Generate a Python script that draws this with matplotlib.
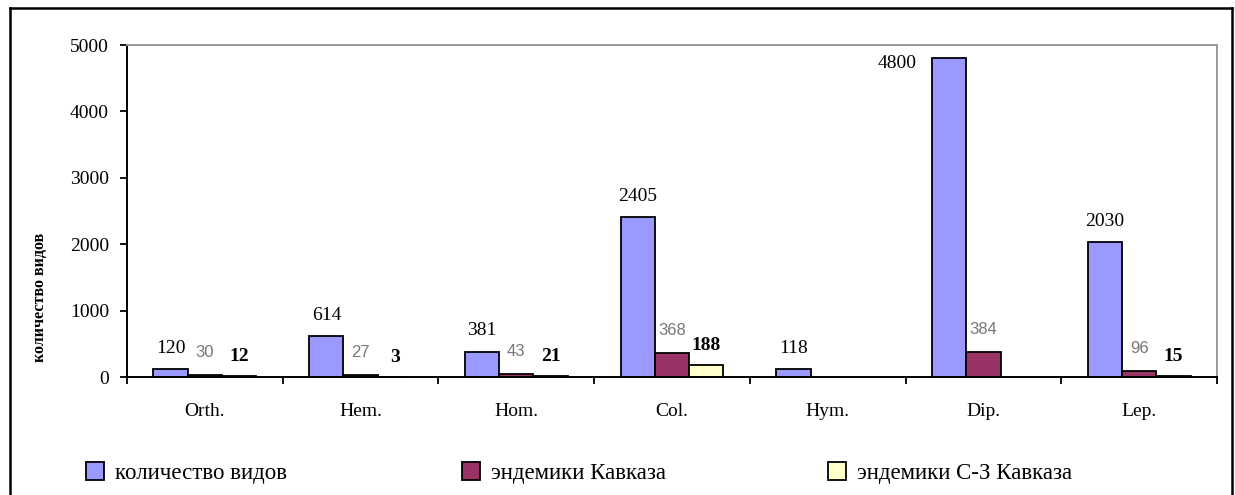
import numpy as np
import matplotlib.pyplot as plt
from matplotlib.lines import Line2D
from matplotlib.patches import Patch

# data
orders = ['Orth.', 'Hem.', 'Hom.', 'Col.', 'Hym.', 'Dip.', 'Lep.']
species = [120, 614, 381, 2405, 118, 4800, 2030]
endem_cauc = [30, 27, 43, 368, np.nan, 384, 96]
endem_nw = [12, 3, 21, 188, np.nan, np.nan, 15]

names = ['количество видов', 'эндемики Кавказа', 'эндемики С-З Кавказа']
colors = ['#9999FF', '#993366', '#FFFFCC']

serif = 'Liberation Serif'
sans = 'Liberation Sans'

fig = plt.figure(figsize=(12.35, 4.95), dpi=100)
ax = fig.add_axes([127 / 1235, 118 / 495, 1090 / 1235, 332 / 495])

x = np.arange(len(orders))
w = 0.22
series = [species, endem_cauc, endem_nw]
for k, vals in enumerate(series):
    ax.bar(x + (k - 1) * w, vals, w, color=colors[k], edgecolor='black', lw=1.3)

ax.set_xlim(-0.5, len(orders) - 0.5)
ax.set_ylim(0, 5000)

# value labels
label_style = [
    dict(family=serif, fontsize=14, color='black'),
    dict(family=sans, fontsize=12, color='#777777', fontweight='light'),
    dict(family=serif, fontsize=14, color='black', fontweight='bold'),
]
offsets = [15, 16, 14]
for k, vals in enumerate(series):
    for i, v in enumerate(vals):
        if np.isnan(v):
            continue
        xc = x[i] + (k - 1) * w
        if v > 4500:
            # no room above, Excel put it to the left of the bar
            ax.annotate(str(int(v)), (xc - w / 2, v), xytext=(-11, -4),
                        textcoords='offset points', ha='right', va='center',
                        **label_style[k])
        else:
            ax.annotate(str(int(v)), (xc, v), xytext=(0, offsets[k]),
                        textcoords='offset points', ha='center', va='center',
                        **label_style[k])

# axes styling
ax.set_yticks(range(0, 5001, 1000))
ax.set_yticklabels([str(t) for t in range(0, 5001, 1000)], family=serif, fontsize=14)
ax.tick_params(axis='y', direction='out', length=5, width=1.3, pad=8)

ax.set_xticks(np.arange(-0.5, len(orders)), minor=False)
ax.set_xticklabels([])
ax.tick_params(axis='x', which='major', direction='out', length=5, width=1.3)
ax.set_xticks(x, minor=True)
ax.set_xticklabels(orders, minor=True, family=serif, fontsize=14)
ax.tick_params(axis='x', which='minor', length=0, pad=19)

for s in ['left', 'bottom']:
    ax.spines[s].set_color('black')
    ax.spines[s].set_linewidth(1.4)
for s in ['top', 'right']:
    ax.spines[s].set_color('#999999')
    ax.spines[s].set_linewidth(1.4)

fig.text(40 / 1235, 1 - 297 / 495, 'количество видов', rotation=90,
         ha='center', va='center', family=serif, fontsize=11.5, fontweight='bold')

# legend, one entry per box
leg_x = [86, 462, 828]
for k in range(3):
    h = Patch(facecolor=colors[k], edgecolor='black', lw=1.3)
    fig.legend([h], [names[k]], loc='center left',
               bbox_to_anchor=(leg_x[k] / 1235, 1 - 473 / 495),
               frameon=False, prop=dict(family=serif, size=16.5),
               handlelength=0.8, handleheight=0.8, handletextpad=0.45,
               borderpad=0, borderaxespad=0)

# outer frame
fx0, fx1, fy = 9.5 / 1235, 1231.5 / 1235, 1 - 7.5 / 495
for xs, ys in [([fx0, fx0], [0, fy]), ([fx0, fx1], [fy, fy]), ([fx1, fx1], [fy, 0])]:
    fig.add_artist(Line2D(xs, ys, color='black', lw=1.8))

fig.savefig('out.png', dpi=100)
